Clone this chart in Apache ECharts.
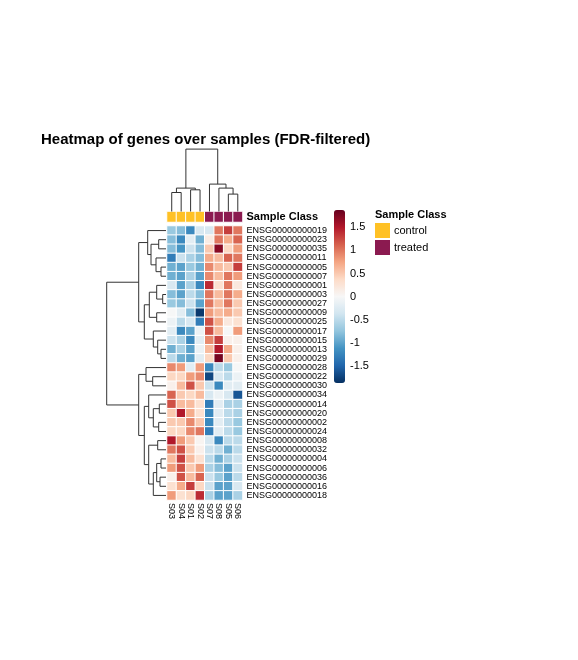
<!DOCTYPE html>
<html>
<head>
<meta charset="utf-8">
<script src="https://cdn.jsdelivr.net/npm/echarts@6/dist/echarts.min.js"></script>
<style>
  html, body { margin: 0; padding: 0; background: #fff; }
  #main { width: 578px; height: 660px; }
</style>
</head>
<body>
<div id="main"></div>
<script>
// columns / samples in dendrogram order
var colNames = ['S03', 'S04', 'S01', 'S02', 'S07', 'S08', 'S05', 'S06'];
var sampleClass = ['control', 'control', 'control', 'control', 'treated', 'treated', 'treated', 'treated'];

// rows / genes in dendrogram order
var rowNames = [
  'ENSG00000000019', 'ENSG00000000023', 'ENSG00000000035', 'ENSG00000000011', 'ENSG00000000005',
  'ENSG00000000007', 'ENSG00000000001', 'ENSG00000000003', 'ENSG00000000027', 'ENSG00000000009',
  'ENSG00000000025', 'ENSG00000000017', 'ENSG00000000015', 'ENSG00000000013', 'ENSG00000000029',
  'ENSG00000000028', 'ENSG00000000022', 'ENSG00000000030', 'ENSG00000000034', 'ENSG00000000014',
  'ENSG00000000020', 'ENSG00000000002', 'ENSG00000000024', 'ENSG00000000008', 'ENSG00000000032',
  'ENSG00000000004', 'ENSG00000000006', 'ENSG00000000036', 'ENSG00000000016', 'ENSG00000000018'
];

// scaled expression (row z-scores), one array per gene, columns as colNames
var zScores = [
  [-0.7, -0.8, -1.2, -0.3, -0.3, 1.0, 1.3, 1.0],
  [-0.8, -1.2, -0.2, -0.9, 0.15, 1.0, 0.7, 1.1],
  [-0.8, -1.1, -0.4, -0.8, 0.5, 1.7, 0.4, 0.8],
  [-1.3, -0.4, -0.6, -0.8, 0.7, 0.6, 1.1, 1.0],
  [-0.9, -1.0, -0.7, -0.9, 0.9, 0.6, 0.5, 1.3],
  [-0.9, -1.0, -0.6, -1.0, 0.9, 0.6, 1.0, 0.8],
  [-0.3, -1.0, -0.6, -1.2, 1.4, 0.3, 1.0, 0.2],
  [-0.8, -1.0, -0.5, -0.8, 1.0, 0.6, 1.0, 0.7],
  [-0.7, -0.8, -0.4, -1.0, 1.0, 0.6, 1.0, 0.5],
  [0.0, -0.2, -0.8, -1.8, 0.8, 0.6, 0.7, 0.5],
  [-0.1, -0.5, -0.3, -1.3, 1.2, 0.7, 0.2, 0.3],
  [-0.2, -1.2, -1.0, -0.1, 1.2, 0.6, 0.0, 0.8],
  [-0.4, -0.6, -1.2, -0.2, 0.9, 1.3, 0.1, 0.1],
  [-0.9, -0.6, -1.0, -0.1, 0.6, 1.5, 0.7, 0.1],
  [-0.5, -0.9, -1.0, -0.2, 0.4, 1.8, 0.5, 0.1],
  [0.9, 0.8, -0.2, 0.8, -1.2, -0.5, -0.7, 0.0],
  [0.4, 0.4, 0.8, 0.9, -1.7, -0.3, -0.5, -0.1],
  [0.1, 0.6, 1.2, 0.5, -0.4, -1.2, -0.2, -0.2],
  [1.1, 0.5, 0.4, 0.6, -0.3, -0.1, -0.3, -1.6],
  [1.2, 0.6, 0.6, 0.3, -1.3, -0.2, -0.6, -0.6],
  [0.5, 1.5, 0.7, 0.3, -1.2, -0.2, -0.5, -0.6],
  [0.5, 0.5, 0.9, 0.5, -1.2, -0.2, -0.5, -0.7],
  [0.4, 0.4, 0.9, 1.0, -1.3, -0.2, -0.5, -0.7],
  [1.5, 0.8, 0.5, 0.05, -0.3, -1.2, -0.5, -0.5],
  [1.0, 1.2, 0.5, 0.1, -0.4, -0.5, -0.9, -0.5],
  [0.6, 1.3, 0.6, 0.3, -0.5, -0.9, -0.6, -0.4],
  [0.8, 1.2, 0.5, 0.8, -0.6, -0.8, -1.0, -0.4],
  [0.1, 1.2, 0.6, 1.1, -0.4, -0.7, -1.0, -0.5],
  [0.3, 0.7, 1.3, 0.4, -0.4, -1.0, -1.0, -0.3],
  [0.8, 0.3, 0.4, 1.4, -0.6, -1.0, -1.0, -0.6]
];

// hclust-style merges: negative = leaf (1-based, display order), positive = earlier merge
var colMerge = [
  [-7, -8, 17.4], [-1, -2, 19.0], [-3, -4, 21.7], [2, 3, 23.4],
  [-6, 1, 23.4], [-5, 5, 27.4], [4, 6, 62.4]
];
var rowMerge = [
  [-2, -3, 7.3], [-5, -6, 5], [-4, 2, 10], [1, 3, 15], [-1, 4, 18.3],
  [-8, -9, 3.3], [-7, 6, 9.3], [-10, -11, 9.3], [7, 8, 16.7],
  [-14, -15, 5], [-13, 10, 8.3], [-12, 11, 12.7], [9, 12, 21.7], [5, 13, 27.3],
  [-17, -18, 13.3], [-16, 15, 20],
  [-20, -21, 6.7], [-22, -23, 7.3], [17, 18, 12.7], [-19, 19, 17.3],
  [-24, -25, 8.3], [-26, -27, 5], [-28, -29, 6], [22, 23, 9.3], [24, -30, 12.7],
  [21, 25, 17.3], [20, 26, 21.7], [16, 27, 27.3], [14, 28, 59.3]
];

var scaleMin = -1.86, scaleMax = 1.87;
var scaleTicks = [-1.5, -1, -0.5, 0, 0.5, 1, 1.5];
var classColors = { control: '#FFC125', treated: '#8B1A50' };
var rdbu = ['#053061', '#2166AC', '#4393C3', '#92C5DE', '#D1E5F0', '#F7F7F7',
            '#FDDBC7', '#F4A582', '#D6604D', '#B2182B', '#67001F'];

var font = '"Liberation Sans", Arial, sans-serif';

var heatData = [];
zScores.forEach(function (row, r) {
  row.forEach(function (v, c) { heatData.push([c, r, v]); });
});

function classData(name) {
  var out = [];
  sampleClass.forEach(function (s, i) { if (s === name) out.push([i, 0, 1]); });
  return out;
}

// build U-shaped links of a dendrogram from its merge list
function dendro(merges, sideways) {
  var pos = [], hgt = [], segs = [];
  function node(k) {
    return k < 0 ? [-k - 1 + 0.5, 0] : [pos[k - 1], hgt[k - 1]];
  }
  merges.forEach(function (m) {
    var a = node(m[0]), b = node(m[1]), h = m[2];
    var pts = [[a[0], a[1]], [a[0], h], [b[0], h], [b[0], b[1]]];
    pos.push((a[0] + b[0]) / 2);
    hgt.push(h);
    segs.push({ coords: sideways ? pts.map(function (p) { return [p[1], p[0]]; }) : pts });
  });
  return segs;
}

var myChart = echarts.init(document.getElementById('main'), null, { renderer: 'canvas' });

var hidden = { show: false };
var option = {
  animation: false,
  backgroundColor: '#fff',
  textStyle: { fontFamily: font },
  title: [{
    text: 'Heatmap of genes over samples (FDR-filtered)',
    left: 41, top: 132, padding: 0,
    textStyle: { fontSize: 15, fontWeight: 'bold', color: '#000', fontFamily: font }
  }, {
    text: 'Sample Class',
    left: 375, top: 209, padding: 0,
    textStyle: { fontSize: 11, fontWeight: 'bold', color: '#000', fontFamily: font }
  }],
  legend: {
    data: ['control', 'treated'],
    orient: 'vertical',
    left: 375, top: 223,
    padding: 0,
    itemWidth: 15, itemHeight: 15, itemGap: 2,
    icon: 'rect',
    selectedMode: false,
    itemStyle: { borderWidth: 0 },
    textStyle: { fontSize: 11, color: '#000', fontFamily: font, padding: [2, 0, 0, -1] }
  },
  visualMap: {
    type: 'continuous',
    seriesIndex: 0,
    min: scaleMin, max: scaleMax,
    left: 334, top: 210,
    padding: 0,
    itemWidth: 11, itemHeight: 173,
    calculable: false,
    hoverLink: false,
    inRange: { color: rdbu }
  },
  grid: [
    { left: 167, top: 226, width: 75.5, height: 274, outerBoundsMode: 'none' },   // heatmap
    { left: 167, top: 211.5, width: 75.5, height: 10.5, outerBoundsMode: 'none' }, // annotation
    { left: 167, top: 141.5, width: 75.5, height: 70, outerBoundsMode: 'none' },   // column tree
    { left: 106, top: 226, width: 60, height: 274, outerBoundsMode: 'none' },     // row tree
    { left: 334, top: 210, width: 11, height: 173, outerBoundsMode: 'none' }      // colour key axis
  ],
  xAxis: [
    {
      type: 'category', gridIndex: 0, data: colNames, position: 'bottom',
      axisLine: hidden, axisTick: hidden, splitLine: hidden,
      axisLabel: { rotate: -90, interval: 0, fontSize: 9, margin: 3, color: '#000', fontFamily: font }
    },
    { type: 'category', gridIndex: 1, data: colNames, show: false },
    { type: 'value', gridIndex: 2, min: 0, max: 8, show: false },
    { type: 'value', gridIndex: 3, min: 0, max: 60, inverse: true, show: false },
    { type: 'value', gridIndex: 4, min: 0, max: 1, show: false }
  ],
  yAxis: [
    {
      type: 'category', gridIndex: 0, data: rowNames, inverse: true, position: 'right',
      axisLine: hidden, axisTick: hidden, splitLine: hidden,
      axisLabel: { fontSize: 9, margin: 4, color: '#000', fontFamily: font, interval: 0 }
    },
    {
      type: 'category', gridIndex: 1, data: ['Sample Class'], position: 'right',
      axisLine: hidden, axisTick: hidden, splitLine: hidden,
      axisLabel: { fontSize: 11, fontWeight: 'bold', margin: 4, color: '#000', fontFamily: font }
    },
    { type: 'value', gridIndex: 2, min: 0, max: 70, show: false },
    { type: 'value', gridIndex: 3, min: 0, max: 30, inverse: true, show: false },
    {
      type: 'value', gridIndex: 4, min: scaleMin, max: scaleMax, position: 'right',
      axisLine: hidden, axisTick: hidden, splitLine: hidden,
      axisLabel: {
        customValues: scaleTicks, showMinLabel: true, showMaxLabel: true,
        fontSize: 11, margin: 5, color: '#000', fontFamily: font,
        formatter: function (v) { return String(v); }
      }
    }
  ],
  series: [
    {
      type: 'heatmap', xAxisIndex: 0, yAxisIndex: 0,
      data: heatData,
      itemStyle: { borderColor: '#fff', borderWidth: 1 },
      emphasis: { disabled: true }
    },
    {
      name: 'control', type: 'heatmap', xAxisIndex: 1, yAxisIndex: 1,
      data: classData('control'),
      itemStyle: { color: classColors.control, borderColor: '#fff', borderWidth: 1 },
      emphasis: { disabled: true }
    },
    {
      name: 'treated', type: 'heatmap', xAxisIndex: 1, yAxisIndex: 1,
      data: classData('treated'),
      itemStyle: { color: classColors.treated, borderColor: '#fff', borderWidth: 1 },
      emphasis: { disabled: true }
    },
    {
      type: 'lines', coordinateSystem: 'cartesian2d', xAxisIndex: 2, yAxisIndex: 2,
      polyline: true, silent: true,
      lineStyle: { color: '#333', width: 1, opacity: 1 },
      data: dendro(colMerge, false)
    },
    {
      type: 'lines', coordinateSystem: 'cartesian2d', xAxisIndex: 3, yAxisIndex: 3,
      polyline: true, silent: true,
      lineStyle: { color: '#333', width: 1, opacity: 1 },
      data: dendro(rowMerge, true)
    }
  ]
};

myChart.setOption(option);
</script>
</body>
</html>
